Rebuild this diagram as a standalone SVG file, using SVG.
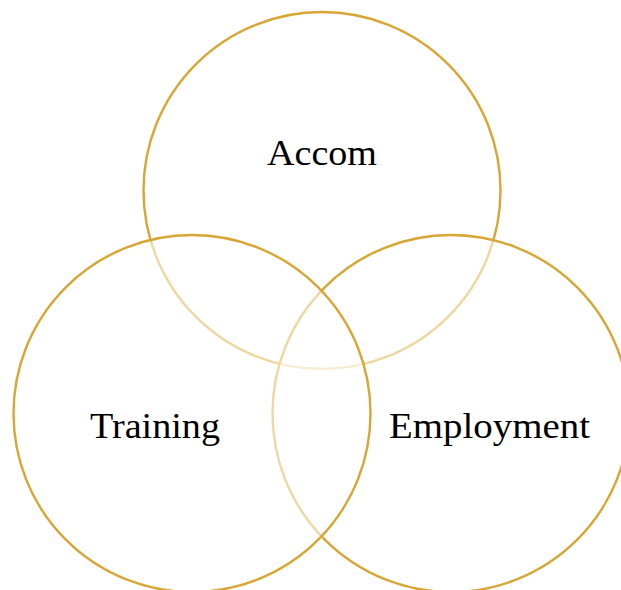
<svg xmlns="http://www.w3.org/2000/svg" width="621" height="590" viewBox="0 0 621 590">
<style>
.c{fill:#ffffff;fill-opacity:0.55;stroke:#D8A634;stroke-width:2.4}
.t{font-family:"Liberation Serif","Times New Roman",serif;font-size:36px;fill:#000;text-anchor:middle}
</style>
<rect width="621" height="590" fill="#ffffff"/>
<g id="accom">
<circle class="c" cx="322" cy="190.5" r="178.5"/>
<text class="t" x="322" y="165" textLength="110" lengthAdjust="spacingAndGlyphs">Accom</text>
</g>
<g id="employment">
<circle class="c" cx="451" cy="413.5" r="178.5"/>
<text class="t" x="489.5" y="438" textLength="201" lengthAdjust="spacingAndGlyphs">Employment</text>
</g>
<g id="training">
<circle class="c" cx="192" cy="413.5" r="178.5"/>
<text class="t" x="155" y="438" textLength="130" lengthAdjust="spacingAndGlyphs">Training</text>
</g>
<g id="connectors"/>
</svg>
